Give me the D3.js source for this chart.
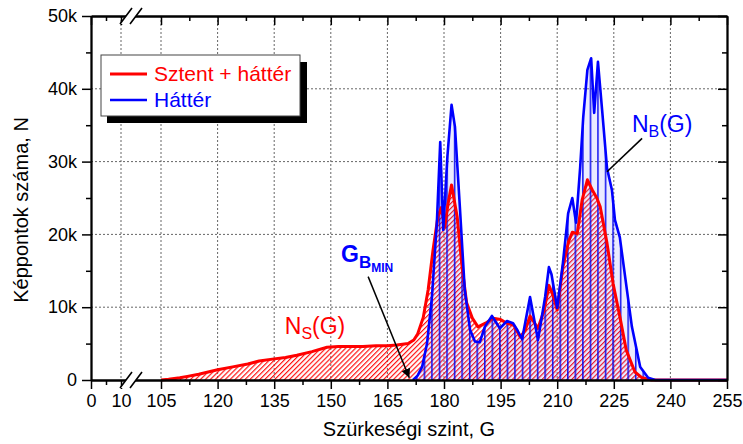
<!DOCTYPE html>
<html>
<head>
<meta charset="utf-8">
<script src="https://cdn.jsdelivr.net/npm/d3@7"></script>
<style>
  body { margin: 0; background: #fff; }
  text { font-family: "Liberation Sans", Arial, Helvetica, sans-serif; }
</style>
</head>
<body>
<div id="chart"></div>
<script>
// grey levels (G) and pixel counts
const stentLevels = [105, 107, 110, 112, 115, 120, 124, 128, 131, 135, 138, 141, 145, 149, 152, 155, 158.5, 162, 165, 167.5, 170.5, 172, 173, 174.5, 175.8, 177.1, 178.4, 179.3, 180.2, 181, 182, 183.5, 184.8, 186, 187.5, 189, 191, 193, 195, 196.7, 198.5, 200.2, 201.5, 202.8, 204.9, 206.5, 207.8, 209, 210, 211.5, 213, 214, 215.3, 216.6, 218, 219.3, 220.5, 221.4, 223.2, 224.8, 226.6, 228.3, 230.6, 232.5, 235, 255];
const stentCounts = [0, 100, 300, 500, 800, 1400, 1800, 2200, 2600, 2900, 3100, 3400, 3900, 4500, 4600, 4600, 4600, 4700, 4700, 4800, 5000, 5500, 6300, 8600, 12400, 17900, 22500, 23700, 21000, 24000, 26800, 22400, 15500, 10600, 8500, 7300, 7800, 8500, 8300, 7800, 7500, 5900, 6800, 8800, 7100, 9500, 13000, 11500, 9600, 15500, 19000, 20300, 20100, 24700, 27500, 26100, 25000, 23800, 18800, 13300, 8700, 4100, 1100, 300, 0, 0];

const backLevels = [171.8, 173, 174.2, 175.5, 176.8, 178.1, 179, 179.8, 180.9, 182, 182.9, 184.2, 185.5, 186.9, 188.2, 189.5, 190.8, 192.7, 194.8, 196.7, 198.3, 199.5, 200.7, 202.8, 204.9, 206.8, 207.8, 208.5, 210, 211.5, 212.9, 214, 215, 216.1, 216.9, 218, 219, 219.8, 220.8, 221.9, 223.2, 224.5, 225.3, 226.6, 228, 229.8, 232, 234.1, 236, 255];
const backCounts = [0, 600, 1800, 5000, 11400, 21500, 32700, 20600, 30700, 37800, 34800, 23800, 12400, 6900, 5300, 5200, 7300, 8800, 7100, 8100, 7800, 6800, 5600, 11400, 5500, 11400, 15500, 14500, 9900, 16000, 22900, 25000, 21600, 29300, 36100, 42600, 44200, 36700, 43700, 37100, 29100, 26100, 22000, 19600, 14200, 7300, 1800, 300, 0, 0];

const xMajorTicks = [0, 10, 105, 120, 135, 150, 165, 180, 195, 210, 225, 240, 255];
const xMinorTicks = [5, 112.5, 127.5, 142.5, 157.5, 172.5, 187.5, 202.5, 217.5, 232.5, 247.5];
const yMajorTicks = [0, 10000, 20000, 30000, 40000, 50000];
const yMinorTicks = [5000, 15000, 25000, 35000, 45000];

const seriesNames = ["Sztent + háttér", "Háttér"];
const seriesColors = ["#ff0000", "#0000ff"];

const W = 743, H = 444;
const svg = d3.select("#chart").append("svg")
  .attr("width", W).attr("height", H);

// broken x axis: 0..10, then 105..255
const x = d3.scaleLinear()
  .domain([0, 10, 105, 255])
  .range([91, 121, 161, 727]);
const y = d3.scaleLinear()
  .domain([0, 50000])
  .range([380, 16]);
const plotL = x(0), plotR = x(255), plotT = y(50000), plotB = y(0);

// patterns
const defs = svg.append("defs");
const hatch = defs.append("pattern")
  .attr("id", "redHatch")
  .attr("patternUnits", "userSpaceOnUse")
  .attr("width", 3.5).attr("height", 10)
  .attr("patternTransform", "rotate(45)");
hatch.append("line")
  .attr("x1", 0.6).attr("y1", 0).attr("x2", 0.6).attr("y2", 10)
  .attr("stroke", "#ff0000").attr("stroke-width", 1.1);

const step = x(192) - x(190);
const vlines = defs.append("pattern")
  .attr("id", "blueLines")
  .attr("patternUnits", "userSpaceOnUse")
  .attr("x", x(190.6) % step)
  .attr("width", step).attr("height", 10);
vlines.append("rect")
  .attr("width", step).attr("height", 10)
  .attr("fill", "rgba(90,90,255,0.12)");
vlines.append("line")
  .attr("x1", 0.8).attr("y1", 0).attr("x2", 0.8).attr("y2", 10)
  .attr("stroke", "#0000ee").attr("stroke-width", 1.4);

defs.append("marker")
  .attr("id", "arrow")
  .attr("viewBox", "0 0 10 10")
  .attr("refX", 10).attr("refY", 5)
  .attr("markerWidth", 9).attr("markerHeight", 9)
  .attr("markerUnits", "userSpaceOnUse")
  .attr("orient", "auto")
  .append("path")
  .attr("d", "M0,0 L10,5 L0,10 z")
  .attr("fill", "#000");

// grid
const grid = svg.append("g");
grid.selectAll(".vg")
  .data(xMajorTicks.filter(d => d > 0 && d < 255))
  .join("line")
  .attr("x1", d => x(d)).attr("x2", d => x(d))
  .attr("y1", plotT).attr("y2", plotB)
  .attr("stroke", "#666").attr("stroke-width", 1)
  .attr("stroke-dasharray", "2,2");
grid.selectAll(".hg")
  .data(yMajorTicks.filter(d => d > 0 && d < 50000))
  .join("line")
  .attr("x1", plotL).attr("x2", plotR)
  .attr("y1", d => y(d)).attr("y2", d => y(d))
  .attr("stroke", "#666").attr("stroke-width", 1)
  .attr("stroke-dasharray", "2,2");

const stentData = stentLevels.map((g, i) => ({ g: g, n: stentCounts[i] }));
const backData = backLevels.map((g, i) => ({ g: g, n: backCounts[i] }));

const area = d3.area()
  .x(d => x(d.g)).y0(y(0)).y1(d => y(d.n));
const line = d3.line()
  .x(d => x(d.g)).y(d => y(d.n));

svg.append("path").datum(stentData)
  .attr("d", area).attr("fill", "url(#redHatch)");
svg.append("path").datum(backData)
  .attr("d", area).attr("fill", "url(#blueLines)");
svg.append("path").datum(stentData)
  .attr("d", line).attr("fill", "none")
  .attr("stroke", seriesColors[0]).attr("stroke-width", 3)
  .attr("stroke-linejoin", "round");
svg.append("path").datum(backData)
  .attr("d", line).attr("fill", "none")
  .attr("stroke", seriesColors[1]).attr("stroke-width", 2.6)
  .attr("stroke-linejoin", "round");

// axes
const fmtY = d => d === 0 ? "0" : (d / 1000) + "k";
function styleAxis(g) {
  g.selectAll("path.domain").attr("stroke", "#000").attr("stroke-width", 1.8);
  g.selectAll(".tick line").attr("stroke", "#000").attr("stroke-width", 1.5);
  g.selectAll("text").attr("font-size", 18).attr("fill", "#000")
    .attr("font-family", "'Liberation Sans', Arial, sans-serif");
}

const xb = svg.append("g").attr("transform", `translate(0,${plotB})`)
  .call(d3.axisBottom(x).tickValues(xMajorTicks).tickSize(9).tickSizeOuter(0).tickPadding(5));
styleAxis(xb);
svg.append("g").attr("transform", `translate(0,${plotB})`)
  .call(d3.axisBottom(x).tickValues(xMinorTicks).tickSize(5).tickSizeOuter(0).tickFormat(""))
  .call(styleAxis);

const xt = svg.append("g").attr("transform", `translate(0,${plotT})`)
  .call(d3.axisTop(x).tickValues(xMajorTicks).tickSize(-9).tickSizeOuter(0).tickFormat(""));
styleAxis(xt);
svg.append("g").attr("transform", `translate(0,${plotT})`)
  .call(d3.axisTop(x).tickValues(xMinorTicks).tickSize(-5).tickSizeOuter(0).tickFormat(""))
  .call(styleAxis);

const yl = svg.append("g").attr("transform", `translate(${plotL},0)`)
  .call(d3.axisLeft(y).tickValues(yMajorTicks).tickSize(9).tickSizeOuter(0).tickPadding(5).tickFormat(fmtY));
styleAxis(yl);
svg.append("g").attr("transform", `translate(${plotL},0)`)
  .call(d3.axisLeft(y).tickValues(yMinorTicks).tickSize(5).tickSizeOuter(0).tickFormat(""))
  .call(styleAxis);

svg.append("g").attr("transform", `translate(${plotR},0)`)
  .call(d3.axisRight(y).tickValues(yMajorTicks).tickSize(-9).tickSizeOuter(0).tickFormat(""))
  .call(styleAxis);
svg.append("g").attr("transform", `translate(${plotR},0)`)
  .call(d3.axisRight(y).tickValues(yMinorTicks).tickSize(-5).tickSizeOuter(0).tickFormat(""))
  .call(styleAxis);

// axis break marks
const bx = (x(10) + x(105)) / 2 - 12;
[plotB, plotT].forEach(cy => {
  svg.append("path")
    .attr("d", `M${bx - 9},${cy + 8} L${bx + 3},${cy - 8} L${bx + 13},${cy - 8} L${bx + 1},${cy + 8} Z`)
    .attr("fill", "#fff");
  svg.append("path")
    .attr("d", `M${bx - 9},${cy + 8} L${bx + 3},${cy - 8} M${bx + 1},${cy + 8} L${bx + 13},${cy - 8}`)
    .attr("stroke", "#000").attr("stroke-width", 1.6).attr("fill", "none");
});

// axis titles
svg.append("text")
  .attr("x", (plotL + plotR) / 2).attr("y", 436)
  .attr("text-anchor", "middle").attr("font-size", 20)
  .text("Szürkeségi szint, G");
svg.append("text")
  .attr("transform", `translate(28,${(plotT + plotB) / 2 + 12}) rotate(-90)`)
  .attr("text-anchor", "middle").attr("font-size", 20)
  .text("Képpontok száma, N");

// legend
const lg = svg.append("g").attr("transform", "translate(101,55)");
lg.append("rect").attr("x", 6).attr("y", 7).attr("width", 200).attr("height", 61).attr("fill", "#000");
lg.append("rect").attr("x", 0).attr("y", 0).attr("width", 199).attr("height", 61)
  .attr("fill", "#fff").attr("stroke", "#444").attr("stroke-width", 1);
seriesNames.forEach((name, i) => {
  const yy = 19 + i * 26;
  lg.append("line").attr("x1", 9).attr("x2", 46).attr("y1", yy).attr("y2", yy)
    .attr("stroke", seriesColors[i]).attr("stroke-width", i === 0 ? 3 : 2.6);
  lg.append("text").attr("x", 53).attr("y", yy + 7)
    .attr("font-size", 21).attr("fill", seriesColors[i]).text(name);
});

// annotations
const ns = svg.append("text")
  .attr("x", x(137.8)).attr("y", y(6300))
  .attr("font-size", 23).attr("fill", "#ff0000");
ns.append("tspan").text("N");
ns.append("tspan").attr("font-size", 16).attr("dy", 5).text("S");
ns.append("tspan").attr("dy", -5).text("(G)");

const nb = svg.append("text")
  .attr("x", x(229.8)).attr("y", y(34000))
  .attr("font-size", 23).attr("fill", "#0000ff");
nb.append("tspan").text("N");
nb.append("tspan").attr("font-size", 16).attr("dy", 5).text("B");
nb.append("tspan").attr("dy", -5).text("(G)");

svg.append("line")
  .attr("x1", x(232.5)).attr("y1", y(33200))
  .attr("x2", x(223.2)).attr("y2", y(28600))
  .attr("stroke", "#000").attr("stroke-width", 1.6);

const gb = svg.append("text")
  .attr("x", x(152.7)).attr("y", y(16200))
  .attr("font-size", 23).attr("font-weight", "bold").attr("fill", "#0000ff");
gb.append("tspan").text("G");
gb.append("tspan").attr("font-size", 17).attr("dy", 6).text("B");
gb.append("tspan").attr("font-size", 12).attr("dy", 4).text("MIN");

svg.append("line")
  .attr("x1", x(159.9)).attr("y1", y(14200))
  .attr("x2", x(170.8)).attr("y2", y(300))
  .attr("stroke", "#000").attr("stroke-width", 1.5)
  .attr("marker-end", "url(#arrow)");
</script>
</body>
</html>
